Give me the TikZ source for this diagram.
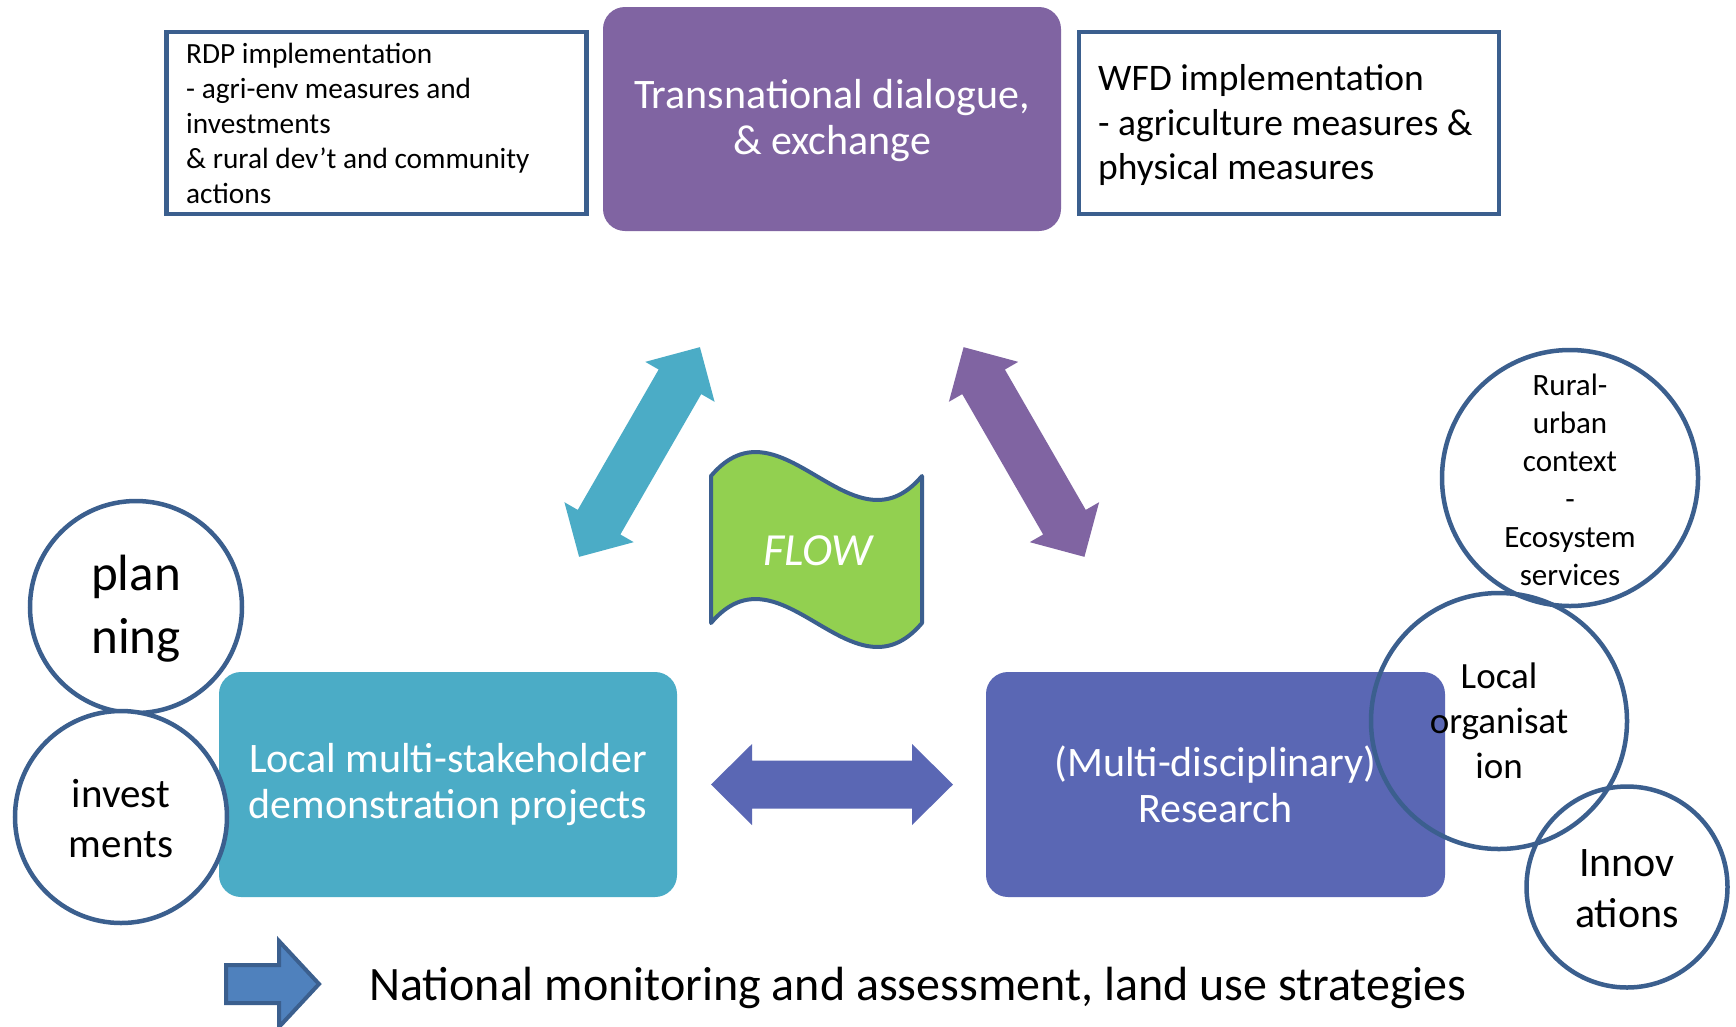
\documentclass[tikz,border=0pt]{standalone}
\usepackage{fontspec}
\setmainfont{Carlito}
\usetikzlibrary{calc}
\definecolor{outl}{HTML}{3B5F8E}
\definecolor{purp}{HTML}{8064A2}
\definecolor{cteal}{HTML}{4BACC6}
\definecolor{resb}{HTML}{5A67B4}
\definecolor{flowg}{HTML}{92D050}
\definecolor{barrow}{HTML}{4F81BD}
\begin{document}
\begin{tikzpicture}[x=1pt,y=-1pt,
  outlinebox/.style={draw=outl,line width=4.5pt,fill=white,inner sep=0pt,
     minimum width=420pt,minimum height=182pt},
  boxtext/.style={anchor=west,inner sep=0pt,align=left},
  solidbox/.style={fill=#1,rounded corners=22pt,inner sep=0pt,text=white,align=center,
     font=\fontsize{42}{46}\selectfont},
  ring/.style={draw=outl,line width=4.5pt,circle,inner sep=0pt,minimum size=#1},
  ringtext/.style={align=center,inner sep=0pt},
]
\fill[white] (0,0) rectangle (1736,1026);
\useasboundingbox (0,0) rectangle (1736,1026);

% top boxes
\node[outlinebox] (rdp) at (376.5,123) {};
\node[boxtext,font=\fontsize{29.3}{35}\selectfont] (rdptext) at (186,123)
  {RDP implementation\\- agri-env measures and\\investments\\\& rural dev’t and community\\actions};
\node[solidbox=purp,minimum width=458pt,minimum height=224pt] (trans) at (832,119) {};
\node[text=white,align=center,inner sep=0pt,font=\fontsize{42}{46}\selectfont] (transtext) at (832,121)
  {Transnational dialogue,\\\& exchange};
\node[outlinebox] (wfd) at (1289,123) {};
\node[boxtext,font=\fontsize{37.5}{44.5}\selectfont] (wfdtext) at (1098,125)
  {WFD implementation\\- agriculture measures \&\\physical measures};

% bottom boxes
\node[solidbox=cteal,minimum width=458pt,minimum height=225pt] (local) at (448,784.5)
  {Local multi-stakeholder\\demonstration projects};
\node[solidbox=resb,minimum width=459pt,minimum height=225pt] (research) at (1215.5,784.5)
  {(Multi-disciplinary)\\Research};

% block arrows
\begin{scope}[shift={(639.5,452)},rotate=60.05]
  \fill[cteal] (-121,0) -- (-81,40) -- (-81,24.6) -- (81,24.6) -- (81,40) -- (121,0)
     -- (81,-40) -- (81,-24.6) -- (-81,-24.6) -- (-81,-40) -- cycle;
\end{scope}
\begin{scope}[shift={(1024,452)},rotate=-60.05]
  \fill[purp] (-121,0) -- (-81,40) -- (-81,24.6) -- (81,24.6) -- (81,40) -- (121,0)
     -- (81,-40) -- (81,-24.6) -- (-81,-24.6) -- (-81,-40) -- cycle;
\end{scope}
\begin{scope}[shift={(832,784.5)}]
  \fill[resb] (-121,0) -- (-80,40.5) -- (-80,24) -- (80,24) -- (80,40.5) -- (121,0)
     -- (80,-40.5) -- (80,-24) -- (-80,-24) -- (-80,-40.5) -- cycle;
\end{scope}

% FLOW banner
\draw[draw=outl,line width=4pt,fill=flowg,line join=round]
  (711,476) .. controls (781,393) and (852,559) .. (922,476) -- (922,623)
  .. controls (852,706) and (781,540) .. (711,623) -- cycle;
\node[text=white,font=\fontsize{46}{50}\selectfont\itshape,inner sep=0pt] (flow) at (818,551) {FLOW};

% circles left
\node[ring=212pt,fill=white] (planc) at (136,607) {};
\node[ringtext,font=\fontsize{51}{63}\selectfont] (plant) at (136,609) {plan\\ning};
\node[ring=212pt,fill=white] (investc) at (121,817) {};
\node[ringtext,font=\fontsize{41}{50}\selectfont] (investt) at (121,819) {invest\\ments};

% circles right
\node[ring=256pt] (ruralc) at (1570,478) {};
\node[ringtext,font=\fontsize{31}{38}\selectfont] (ruralt) at (1570,480)
  {Rural-\\urban\\context\\-\\Ecosystem\\services};
\node[ring=256pt] (orgc) at (1499,721) {};
\node[ringtext,font=\fontsize{37}{45}\selectfont] (orgt) at (1499,721) {Local\\organisat\\ion};
\node[ring=201pt] (innovc) at (1627,887) {};
\node[ringtext,font=\fontsize{42}{51}\selectfont] (innovt) at (1627,889) {Innov\\ations};

% bottom arrow and text
\draw[fill=barrow,draw=outl,line width=4pt,line join=miter]
  (226,965) -- (279,965) -- (279,941) -- (319,984) -- (279,1027) -- (279,1003) -- (226,1003) -- cycle;
\node[anchor=base west,inner sep=0pt,font=\fontsize{48}{56}\selectfont] (national) at (369,1000)
  {National monitoring and assessment, land use strategies};
\end{tikzpicture}
\end{document}
